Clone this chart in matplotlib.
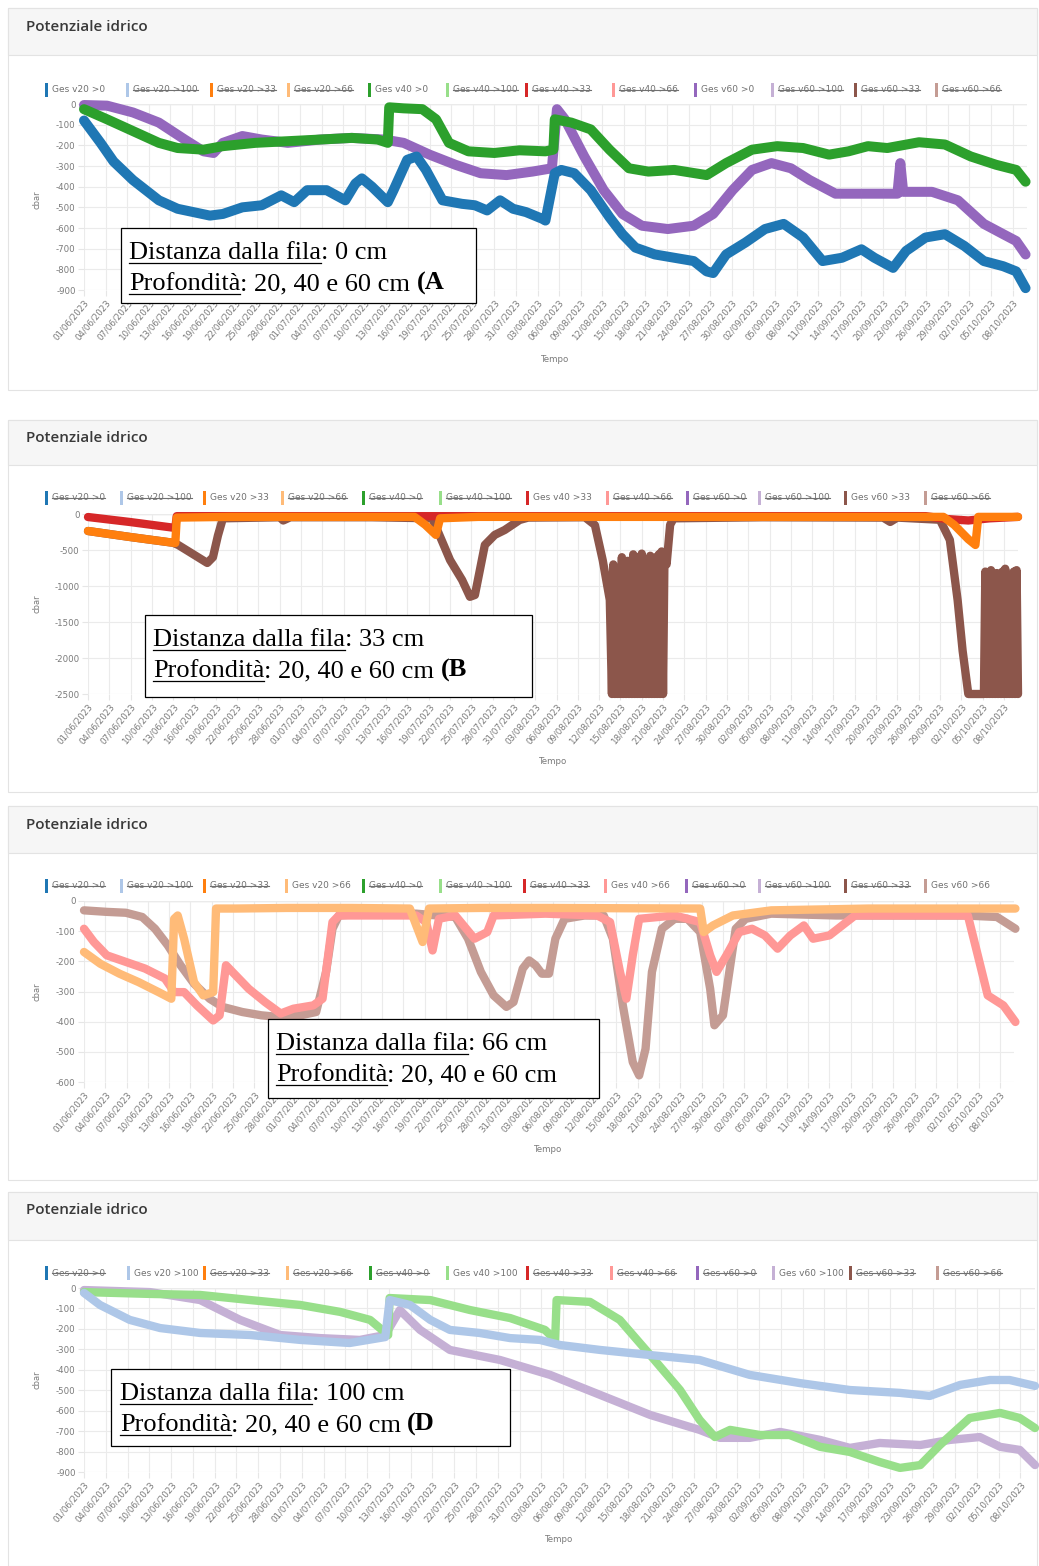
import datetime as dt
import matplotlib
matplotlib.use("Agg")
import matplotlib.pyplot as plt
from matplotlib.patches import Rectangle

W, H = 1039, 1566
plt.rcParams['axes.unicode_minus'] = False

# ---------------- data ----------------
START = dt.date(2023, 6, 1)
TICK_LABELS = ["01/06/2023", "04/06/2023", "07/06/2023", "10/06/2023", "13/06/2023", "16/06/2023",
               "19/06/2023", "22/06/2023", "25/06/2023", "28/06/2023", "01/07/2023", "04/07/2023",
               "07/07/2023", "10/07/2023", "13/07/2023", "16/07/2023", "19/07/2023", "22/07/2023",
               "25/07/2023", "28/07/2023", "31/07/2023", "03/08/2023", "06/08/2023", "09/08/2023",
               "12/08/2023", "15/08/2023", "18/08/2023", "21/08/2023", "24/08/2023", "27/08/2023",
               "30/08/2023", "02/09/2023", "05/09/2023", "08/09/2023", "11/09/2023", "14/09/2023",
               "17/09/2023", "20/09/2023", "23/09/2023", "26/09/2023", "29/09/2023", "02/10/2023",
               "05/10/2023", "08/10/2023"]

LABELS = ["Ges v20 >0", "Ges v20 >100", "Ges v20 >33", "Ges v20 >66",
          "Ges v40 >0", "Ges v40 >100", "Ges v40 >33", "Ges v40 >66",
          "Ges v60 >0", "Ges v60 >100", "Ges v60 >33", "Ges v60 >66"]
COLORS = ["#1f77b4", "#aec7e8", "#ff7f0e", "#ffbb78",
          "#2ca02c", "#98df8a", "#d62728", "#ff9896",
          "#9467bd", "#c5b0d5", "#8c564b", "#c49c94"]

# Panel A (0 cm) - days since 01/06/2023, values in cbar
A_V20_DAYS = [0, 2.3, 4.1, 6.8, 10.4, 13, 17.5, 19.3, 22, 24.7, 27.4, 29.2, 31, 33.7, 36.3, 37.7, 38.6,
              40, 42.2, 43, 44.9, 46.2, 47.5, 49.8, 52.5, 54.3, 56, 57.8, 59.6, 61.4, 63.7, 64.1, 65.4,
              66.3, 68.1, 70.4, 73, 74.8, 76.6, 79.3, 82, 84.7, 86.5, 87.4, 89.2, 91.9, 94.6, 97.2,
              99.9, 102.6, 105.3, 108, 109.8, 112.4, 114.2, 116.9, 119.6, 122.3, 125, 127.7, 129.5, 130.8]
A_V20_VALS = [-80, -188, -278, -368, -466, -507, -540, -532, -500, -490, -442, -475, -417, -417, -466,
              -385, -360, -400, -475, -417, -270, -254, -319, -466, -483, -490, -515, -466, -507, -523,
              -556, -564, -335, -319, -335, -417, -548, -630, -695, -728, -744, -760, -810, -818, -728,
              -670, -605, -580, -646, -760, -744, -703, -744, -793, -711, -646, -630, -687, -760, -785,
              -810, -891]
A_V40_DAYS = [0, 3.2, 6.8, 10.4, 13, 16.6, 19.3, 23.8, 28.3, 32.8, 37.2, 40.8, 42.2, 42.4, 44.4, 47,
              48.9, 50.7, 53.4, 57, 60.5, 64.1, 65.2, 65.4, 67.7, 70.4, 73, 75.7, 78.4, 82, 86.5, 89.2,
              92.8, 96.3, 99.9, 103.5, 106.2, 108.9, 111.6, 116, 119.6, 123.2, 126.7, 129.5, 130.8]
A_V40_VALS = [-25, -74, -131, -188, -213, -221, -204, -188, -180, -172, -164, -172, -188, -16, -21,
              -25, -74, -188, -229, -237, -224, -229, -221, -74, -90, -123, -221, -311, -327, -319,
              -344, -286, -221, -204, -213, -245, -229, -204, -213, -185, -196, -254, -294, -319, -376]
A_V60_DAYS = [0, 3.2, 6.8, 10.4, 14, 16.6, 18, 19.3, 22, 24.7, 28.3, 32.8, 37.2, 41.7, 44.4, 48, 51.6,
              55.1, 58.7, 62.3, 65, 65.7, 66.8, 69.5, 72.2, 74.8, 77.5, 81.1, 84.7, 87.4, 90.1, 92.8,
              95.5, 98.2, 100.8, 104.4, 107.1, 110.7, 113.0, 113.4, 113.8, 117.8, 121.4, 125, 127.7,
              129.5, 130.8]
A_V60_VALS = [-5, -8, -41, -90, -172, -229, -237, -188, -155, -172, -188, -172, -164, -172, -188, -245,
              -294, -335, -344, -327, -311, -25, -74, -254, -417, -532, -589, -605, -589, -532, -417,
              -319, -286, -311, -368, -434, -434, -434, -434, -286, -425, -425, -466, -580, -630, -663,
              -728]

# Panel B (33 cm)
B_V20_DAYS = [0, 5.9, 12.3, 12.5, 20, 30, 40, 46, 47.5, 49, 49.6, 55, 65, 75, 85, 95, 105, 115, 120.5,
              122, 124, 125, 125.4, 131]
B_V20_VALS = [-236, -319, -403, -50, -40, -40, -40, -40, -150, -290, -60, -40, -40, -40, -40, -40, -40,
              -40, -40, -150, -350, -430, -40, -40]
B_V40_DAYS = [0, 5.9, 12.3, 12.5, 30, 60, 90, 118, 121, 124, 127, 131]
B_V40_VALS = [-42, -111, -194, -30, -30, -30, -30, -30, -70, -90, -60, -40]
B_V60_DAYS = [0, 5.9, 12.0, 12.7, 15, 16.8, 17.6, 18.3, 19, 27,
              27.5, 28.5, 40, 48.5, 49.2, 51, 52.7, 53.8, 54.5, 55.2,
              55.9, 57.3, 58.7, 60.8, 62, 70, 71.4, 72.5, 73.5,
              73.8, 74.0, 74.2, 74.4, 74.6, 74.8, 75.0, 75.2, 75.4, 75.6,
              75.8, 76.0, 76.2, 76.4, 76.6, 76.8, 77.0, 77.2, 77.4, 77.6,
              77.8, 78.0, 78.2, 78.4, 78.6, 78.8, 79.0, 79.2, 79.4, 79.6,
              79.8, 80.0, 80.2, 80.4, 80.6, 80.8, 81.0, 81.2,
              81.5, 82, 82.5, 95, 112, 113, 114, 120, 121.4, 122.5,
              123.2, 124, 126.2,
              126.4, 126.6, 126.8, 127.0, 127.2, 127.4, 127.6, 127.8, 128.0, 128.2,
              128.4, 128.6, 128.8, 129.0, 129.2, 129.4, 129.6, 129.8, 130.0, 130.2,
              130.4, 130.6, 130.8, 131.0]
B_V60_VALS = [-236, -319, -400, -430, -570, -680, -600, -300, -60, -45,
              -90, -45, -45, -60, -222, -640, -917, -1150, -1125, -778,
              -430, -290, -222, -83, -50, -45, -153, -640, -1194,
              -2500, -700, -2500, -1100, -2500, -800, -2500, -600, -2500, -900,
              -2500, -650, -2500, -1000, -2500, -560, -2500, -750, -2500, -600,
              -2500, -550, -2500, -620, -2500, -700, -2500, -580, -2500, -650,
              -2500, -600, -2500, -560, -2500, -520, -2500, -600,
              -700, -150, -60, -45, -50, -110, -50, -80, -360, -1200,
              -1900, -2500, -2500,
              -800, -2500, -900, -2500, -780, -2500, -1000, -2500, -820, -2500,
              -900, -2500, -800, -2500, -760, -2500, -850, -2500, -900, -2500,
              -800, -2500, -780, -2500]

# Panel C (66 cm)
C_V20_DAYS = [0, 2.3, 5, 7.7, 10.5, 12.3, 12.7, 13.2, 14.1, 15.5, 16.8, 18.2, 18.6, 21.4, 28.6, 37.7,
              45.9, 46.8, 47.7, 48.6, 55.9, 65, 86.8, 87.3, 88.6, 91.4, 96.8, 110.5, 131.2]
C_V20_VALS = [-169, -208, -241, -269, -302, -324, -59, -48, -125, -269, -313, -302, -25, -25, -23, -23,
              -25, -81, -136, -25, -23, -23, -25, -103, -81, -48, -31, -25, -25]
C_V40_DAYS = [0, 1.4, 3.2, 5.9, 8.6, 11.4, 12.7, 14.1, 15.9, 18.2, 19.1, 20, 20.9, 23.2, 25.5, 27.7,
              29.5, 32.3, 33.6, 35, 35.9, 46.8, 48.2, 49.1, 50, 52.3, 55, 56.8, 57.7, 65, 72.3, 74.1,
              75.5, 76.4, 77.3, 78.2, 83.2, 86.8, 88.2, 89.1, 90.5, 92.3, 94.1, 95.9, 97.7, 99.5, 101.4,
              102.7, 105, 106.8, 108.6, 119.5, 124.5, 125.9, 127.3, 129.5, 131.2]
C_V40_VALS = [-92, -136, -180, -202, -224, -257, -302, -302, -346, -396, -379, -213, -235, -291, -335,
              -373, -357, -346, -324, -70, -48, -48, -70, -164, -59, -48, -125, -103, -48, -42, -48,
              -70, -235, -324, -180, -59, -48, -70, -180, -235, -180, -103, -92, -114, -158, -114, -81,
              -125, -114, -81, -48, -48, -48, -180, -313, -346, -401]
C_V60_DAYS = [0, 3.2, 5.9, 8.2, 10, 11.8, 13.6, 15.5, 17.7, 19.5, 22.3, 25, 27.7, 30.5, 32.7, 34.1, 35,
              35.9, 39.5, 46.8, 52.3, 54.1, 55.9, 57.7, 59.5, 60.5, 61.8, 62.7, 63.6, 64.5, 65.5, 66.4,
              67.7, 70.5, 73.2, 74.5, 75.9, 77.3, 78.2, 79.1, 80, 81.4, 83.2, 85, 86.8, 88.2, 88.8, 90,
              90.9, 91.8, 93.2, 96.8, 105.9, 115, 124.1, 128.6, 131.2]
C_V60_VALS = [-31, -36, -39, -53, -92, -147, -213, -274, -324, -351, -368, -379, -385, -379, -368, -235,
              -92, -48, -42, -42, -53, -125, -235, -313, -351, -335, -224, -197, -213, -241, -241, -125,
              -59, -48, -48, -125, -346, -534, -578, -490, -235, -92, -59, -59, -103, -291, -412, -379,
              -235, -92, -59, -42, -48, -48, -48, -53, -92]

# Panel D (100 cm)
D_V20_DAYS = [0, 2.2, 6.3, 10.5, 16, 22.9, 29.8, 36.6, 41.5, 42.1, 44.9, 47.7, 50.4, 54.5, 58.7, 62.8,
              65.6, 71.1, 78, 84.8, 91.7, 98.6, 105.5, 112.4, 116.5, 120.7, 124.8, 127.5, 131]
D_V20_VALS = [-24, -83, -156, -196, -220, -230, -254, -269, -240, -59, -83, -156, -205, -220, -245,
              -254, -279, -303, -328, -352, -425, -465, -499, -513, -528, -474, -450, -450, -479]
D_V40_DAYS = [0, 9.1, 16, 22.9, 29.8, 35.3, 39.4, 41.9, 42.1, 47.7, 53.2, 58.7, 63.5, 64.9, 65.1, 69.7,
              73.8, 78, 82.1, 84.8, 86.9, 89, 93.1, 97.2, 101.4, 105.5, 109.6, 112.4, 115.2, 117.9, 122,
              126.2, 128.9, 131]
D_V40_VALS = [-20, -29, -34, -59, -83, -117, -156, -230, -49, -59, -108, -147, -205, -254, -59, -68,
              -156, -328, -499, -645, -729, -694, -719, -719, -777, -802, -851, -880, -866, -768, -636,
              -611, -636, -685]
D_V60_DAYS = [0, 9.1, 16, 21.5, 27, 32.5, 38, 41.5, 43.5, 46.3, 50.4, 57.3, 64.2, 71.1, 78, 84.8, 87.6,
              91.7, 95.9, 101.4, 105.5, 109.6, 115.2, 119.3, 123.4, 126.2, 128.9, 131]
D_V60_VALS = [-10, -20, -59, -156, -230, -245, -254, -230, -108, -205, -303, -352, -425, -523, -621,
              -694, -733, -733, -704, -743, -782, -758, -768, -743, -729, -777, -792, -866]

# ---------------- figure ----------------
fig = plt.figure(figsize=(W / 100, H / 100), dpi=100)
fig.patch.set_facecolor("white")
bg = fig.add_axes([0, 0, 1, 1], zorder=0)
bg.set_xlim(0, W); bg.set_ylim(H, 0); bg.axis("off")
ov = fig.add_axes([0, 0, 1, 1], zorder=5)
ov.set_xlim(0, W); ov.set_ylim(H, 0); ov.axis("off"); ov.patch.set_alpha(0)
renderer = fig.canvas.get_renderer()

TICK_DAYS = [(dt.datetime.strptime(s, "%d/%m/%Y").date() - START).days for s in TICK_LABELS]
GRAY = "#7a7a7a"


def card(y0, y1, hdr, title_y):
    bg.add_patch(Rectangle((8, y0), 1029, y1 - y0, fc="white", ec="#e3e3e3", lw=0.8))
    bg.add_patch(Rectangle((8, y0), 1029, hdr - y0, fc="#f6f6f6", ec="#e3e3e3", lw=0.8))
    bg.text(26, title_y, "Potenziale idrico", fontsize=11, family="Open Sans", weight="semibold",
            color="#3a3a3a", va="center", ha="left")


def legend(y, xs, visible):
    for i, (x, lab, col) in enumerate(zip(xs, LABELS, COLORS)):
        bg.add_patch(Rectangle((x - 1.5, y - 7), 3.5, 14, fc=col, ec="none"))
        t = bg.text(x + 6, y, lab, fontsize=6.5, color="#707070", va="center", ha="left")
        if i not in visible:
            bb = t.get_window_extent(renderer=renderer)
            ym = H - (bb.y0 + bb.y1) / 2
            bg.plot([bb.x0, bb.x1], [ym, ym], color="#707070", lw=0.8)


def panel(x0, x1, yt, yb, ymin, yticks, series, lw, label_y, tempo_x, tempo_y):
    ax = fig.add_axes([x0 / W, 1 - yb / H, (x1 - x0) / W, (yb - yt) / H], zorder=1)
    ax.patch.set_alpha(0)
    ax.set_xlim(0, 131)
    ax.set_ylim(ymin, 0)
    for days, vals, col in series:
        ax.plot(days, vals, color=col, lw=lw, solid_joinstyle="round", solid_capstyle="round",
                clip_on=False)
    ax.set_xticks(TICK_DAYS)
    ax.set_xticklabels(TICK_LABELS, rotation=50, ha="right", va="top", rotation_mode="anchor",
                       fontsize=6.2, color=GRAY)
    ax.set_yticks(yticks)
    ax.set_yticklabels([str(v) for v in yticks], fontsize=6.2, color=GRAY)
    ax.tick_params(axis="both", length=4, color="#e6e6e6", width=0.8, pad=2)
    ax.grid(True, color="#ebebeb", lw=0.8)
    ax.set_axisbelow(True)
    for s in ax.spines.values():
        s.set_visible(False)
    ax.axhline(0, color="#cfcfcf", lw=0.9, zorder=0.5)
    bg.text(37, label_y, "cbar", rotation=90, fontsize=6, color=GRAY, ha="center", va="center")
    bg.text(tempo_x, tempo_y, "Tempo", fontsize=6.2, color=GRAY, ha="center", va="center")
    return ax


def run(x, y, pieces, size=19):
    for txt, bold, ul, gap in pieces:
        x += gap
        t = ov.text(x, y, txt, fontsize=size, family="Liberation Serif",
                    weight="bold" if bold else "normal", va="baseline", ha="left", color="black",
                    zorder=12)
        bb = t.get_window_extent(renderer=renderer)
        if ul:
            ov.plot([x, x + bb.width], [y + 4, y + 4], color="black", lw=0.9, zorder=12)
        x += bb.width


def note(bx0, by0, bx1, by1, tx, base1, base2, dist, letter):
    ov.add_patch(Rectangle((bx0, by0), bx1 - bx0, by1 - by0, fc="white", ec="black", lw=0.9,
                           zorder=11))
    run(tx, base1, [("Distanza dalla fila", False, True, 0), (": " + dist, False, False, 0)])
    second = [("Profondità", False, True, 0), (": 20, 40 e 60 cm", False, False, 0)]
    if letter:
        second.append(("(" + letter, True, False, 6))
    run(tx, base2, second)


# cards
card(8, 390, 55, 27)
card(420, 792, 465, 438)
card(806, 1180, 853, 825)
card(1192, 1566, 1240, 1210)

# legends
legend(90, [46, 127, 211, 288, 369, 447, 526, 613, 695, 772, 855, 936], {0, 4, 8})
legend(498, [46, 121, 204, 282, 363, 440, 527, 607, 687, 759, 845, 925], {2, 6, 10})
legend(886, [46, 121, 204, 286, 363, 440, 524, 605, 686, 759, 845, 925], {3, 7, 11})
legend(1273, [46, 128, 204, 287, 370, 447, 527, 611, 697, 773, 850, 937], {1, 5, 9})

# panels
panel(84, 1027, 104, 290, -900, list(range(0, -1000, -100)),
      [(A_V60_DAYS, A_V60_VALS, COLORS[8]), (A_V40_DAYS, A_V40_VALS, COLORS[4]),
       (A_V20_DAYS, A_V20_VALS, COLORS[0])], 7.2, 200, 555, 359)
panel(88, 1018, 514, 694, -2500, list(range(0, -3000, -500)),
      [(B_V60_DAYS, B_V60_VALS, COLORS[10]), (B_V40_DAYS, B_V40_VALS, COLORS[6]),
       (B_V20_DAYS, B_V20_VALS, COLORS[2])], 6.0, 604, 553, 761)
panel(84, 1014, 901, 1082, -600, list(range(0, -700, -100)),
      [(C_V60_DAYS, C_V60_VALS, COLORS[11]), (C_V40_DAYS, C_V40_VALS, COLORS[7]),
       (C_V20_DAYS, C_V20_VALS, COLORS[3])], 6.0, 992, 548, 1150)
panel(84, 1035, 1288, 1472, -900, list(range(0, -1000, -100)),
      [(D_V60_DAYS, D_V60_VALS, COLORS[9]), (D_V40_DAYS, D_V40_VALS, COLORS[5]),
       (D_V20_DAYS, D_V20_VALS, COLORS[1])], 6.0, 1380, 559, 1540)

# annotation boxes
note(121, 228, 476, 303, 129, 259, 290, "0 cm", "A")
note(145, 615, 532, 697, 153, 646, 677, "33 cm", "B")
note(268, 1019, 599, 1098, 276, 1050, 1081, "66 cm", None)
note(111, 1369, 510, 1446, 120, 1400, 1431, "100 cm", "D")

fig.savefig("out.png", dpi=100, facecolor="white")
